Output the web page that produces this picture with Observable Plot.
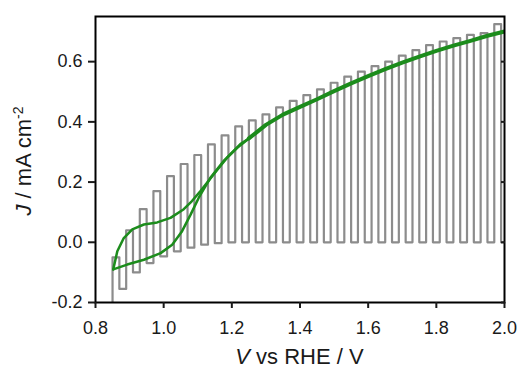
<!DOCTYPE html>
<html><head><meta charset="utf-8">
<script src="https://cdn.jsdelivr.net/npm/d3@7"></script>
<script src="https://cdn.jsdelivr.net/npm/@observablehq/plot@0.6"></script>
<style>body{margin:0;background:#fff} #chart{width:517px;height:370px}</style>
</head><body><div id="chart"></div>
<script>
// Chopped-light scan (gray): light pulse centres (V), light current, dark current after each pulse (mA cm^-2)
const scanStartV = 0.85;
const scanStartJ = -0.2;
const lightV = [0.86, 0.90, 0.94, 0.98, 1.02, 1.06, 1.10, 1.14, 1.18, 1.22, 1.26, 1.30, 1.34, 1.38, 1.42,
                1.46, 1.50, 1.54, 1.58, 1.62, 1.66, 1.70, 1.74, 1.78, 1.82, 1.86, 1.90, 1.94, 1.98];
const lightJ = [-0.05, 0.04, 0.11, 0.17, 0.22, 0.26, 0.29, 0.325, 0.355, 0.385, 0.405, 0.425, 0.448, 0.47, 0.489,
                0.508, 0.53, 0.55, 0.567, 0.585, 0.60, 0.62, 0.638, 0.655, 0.667, 0.678, 0.689, 0.695, 0.725];
const darkJ  = [-0.155, -0.10, -0.069, -0.047, -0.03, -0.018, -0.008, -0.003, 0, 0, 0, 0, 0, 0, 0,
                0, 0, 0, 0, 0, 0, 0, 0, 0, 0, 0, 0, 0, 0];

// Continuous illumination CV (green)
const cvUpperV = [0.852, 0.864, 0.883, 0.908, 0.942, 0.981, 1.02, 1.059, 1.083, 1.108, 1.147, 1.186, 1.225];
const cvUpperJ = [-0.09, -0.03, 0.014, 0.043, 0.059, 0.066, 0.081, 0.11, 0.137, 0.17, 0.226, 0.281, 0.326];
const cvLowerV = [0.852, 0.893, 0.942, 0.991, 1.025, 1.054, 1.079, 1.103, 1.137, 1.176, 1.216];
const cvLowerJ = [-0.09, -0.074, -0.058, -0.036, -0.008, 0.037, 0.092, 0.148, 0.214, 0.27, 0.314];
const cvHighV  = [1.25, 1.30, 1.35, 1.40, 1.45, 1.50, 1.55, 1.60, 1.65, 1.70, 1.75, 1.80, 1.85, 1.90, 1.95, 2.00];
const cvHighJ  = [0.345, 0.39, 0.424, 0.45, 0.475, 0.502, 0.528, 0.552, 0.575, 0.597, 0.617, 0.636, 0.653, 0.669, 0.686, 0.70];

// Axis ticks
const xTicks = [0.8, 1.0, 1.2, 1.4, 1.6, 1.8, 2.0];
const yTicks = [-0.2, 0.0, 0.2, 0.4, 0.6];
const xDomain = [0.8, 2.0];
const yDomain = [-0.2, 0.75];

// Build tables
const half = 0.01;
const chopped = [{v: scanStartV, j: scanStartJ}];
lightV.forEach((c, k) => {
  chopped.push({v: c - half, j: lightJ[k]}, {v: c + half, j: lightJ[k]},
               {v: c + half, j: darkJ[k]}, {v: c + 3 * half, j: darkJ[k]});
});
const branches = [];
cvUpperV.forEach((v, i) => branches.push({v, j: cvUpperJ[i], b: "upper"}));
branches.push({v: cvHighV[0], j: cvHighJ[0], b: "upper"});
cvLowerV.forEach((v, i) => branches.push({v, j: cvLowerJ[i], b: "lower"}));
branches.push({v: cvHighV[0], j: cvHighJ[0], b: "lower"});
const high = cvHighV.map((v, i) => ({v, j: cvHighJ[i]}));

const green = "#1c8c1c";
const gray = "#8c8c8c";
const fmt = d => d.toFixed(1);

const chart = Plot.plot({
  width: 517, height: 370,
  marginLeft: 95, marginRight: 13, marginTop: 16, marginBottom: 68,
  style: {fontFamily: "'Liberation Sans', Arial, sans-serif", fontSize: "18px", color: "#1a1a1a", background: "#fff"},
  x: {domain: xDomain},
  y: {domain: yDomain},
  marks: [
    Plot.line(chopped, {x: "v", y: "j", stroke: gray, strokeWidth: 2.2, clip: true}),
    Plot.line(branches, {x: "v", y: "j", z: "b", stroke: green, strokeWidth: 2.5, clip: true}),
    Plot.line(high, {x: "v", y: "j", stroke: green, strokeWidth: 4, clip: true}),
    Plot.frame({stroke: "black", strokeWidth: 2}),
    Plot.axisX({ticks: xTicks, tickFormat: fmt, tickSize: 6, tickPadding: 13, strokeWidth: 2, label: null}),
    Plot.axisY({anchor: "left", ticks: yTicks, tickFormat: fmt, tickSize: 7, tickPadding: 6, strokeWidth: 2, label: null}),
    Plot.axisY({anchor: "right", ticks: yTicks, tickFormat: () => "", tickSize: -4, strokeWidth: 2, label: null})
  ]
});
document.getElementById("chart").append(chart);

const svg = d3.select(chart);
const xr = chart.scale("x").range, yr = chart.scale("y").range;
const xt = svg.append("text").attr("x", (xr[0] + xr[1]) / 2).attr("y", 364)
  .attr("text-anchor", "middle").attr("fill", "#1a1a1a").style("font-size", "22px");
xt.append("tspan").style("font-style", "italic").text("V");
xt.append("tspan").text(" vs RHE / V");

const yt = svg.append("text").attr("transform", `translate(31,${(yr[0] + yr[1]) / 2 + 2}) rotate(-90)`)
  .attr("text-anchor", "middle").attr("fill", "#1a1a1a").style("font-size", "22px");
yt.append("tspan").style("font-style", "italic").text("J");
yt.append("tspan").text(" / mA cm");
yt.append("tspan").attr("dy", "-0.6em").style("font-size", "14px").text("-2");
</script>
</body></html>
